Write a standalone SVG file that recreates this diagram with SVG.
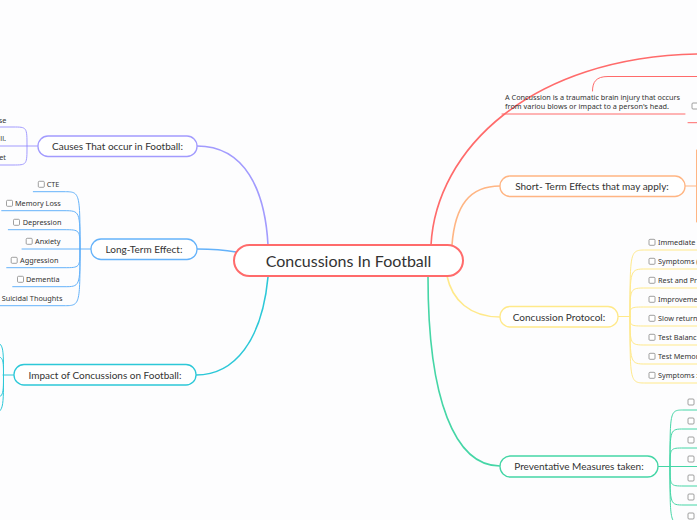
<svg xmlns="http://www.w3.org/2000/svg" width="697" height="520" viewBox="0 0 697 520">
<style>
.t{font-family:Lato,"Noto Sans",sans-serif;fill:#333}
.lbl{font-size:10px;text-anchor:middle}
.it{font-family:"Noto Sans",Lato,sans-serif;font-size:7.3px}
.cb{fill:#fff;stroke:#888;stroke-width:0.8}
.c path,.c line{fill:none;stroke-linecap:round}
.red{stroke:#FF6B6B}
.pur{stroke:#A29BFE}
.blu{stroke:#64B2FA}
.cya{stroke:#2CC8D8}
.ora{stroke:#FFB583}
.yel{stroke:#FFE98A}
.grn{stroke:#45D6A6}
.m{stroke-width:1.6}
.s{stroke-width:1}
</style>
<rect width="697" height="520" fill="#fdfdfe"/>
<g id="connectors" class="c">
<path class="red m" d="M431,245 C436,150 530,57 698,54"/>
<path class="red s" d="M592.5,91 C592.5,82 596,76.5 608,76.5 L698,76.5"/>
<path class="red s" d="M502,114 L685,114"/>
<path class="red s" d="M688,122.7 L698,122.7"/>
<path class="pur m" d="M268,245 C265,190 245,146 197,146"/>
<path class="pur s" d="M38,146 L-2,146"/>
<path class="pur s" d="M27,146 C27,127 27,127 13,127 L-2,127"/>
<path class="pur s" d="M27,146 C27,165 27,165 13,165 L-2,165"/>
<path class="blu m" d="M236,252 C225,250 215,249 197,249"/>
<path class="blu s" d="M91,249 L22,249"/>
<path class="blu s" d="M80,249 C80,191.7 80,191.7 64,191.7 L33.3,191.7"/>
<path class="blu s" d="M80,249 C80,210.7 80,210.7 64,210.7 L1.7,210.7"/>
<path class="blu s" d="M80,249 C80,229.7 80,229.7 64,229.7 L8.3,229.7"/>
<path class="blu s" d="M80,249 C80,267.7 80,267.7 64,267.7 L6.7,267.7"/>
<path class="blu s" d="M80,249 C80,286.7 80,286.7 64,286.7 L12.7,286.7"/>
<path class="blu s" d="M80,249 C80,305.7 80,305.7 64,305.7 L-2,305.7"/>
<path class="cya m" d="M268,277 C262,340 235,375 196,375"/>
<path class="cya s" d="M14,375 L3,375"/>
<path class="cya s" d="M3.5,375 C3.5,342 3.5,342 -12,342"/>
<path class="cya s" d="M3.5,375 C3.5,356 3.5,356 -12,356"/>
<path class="cya s" d="M3.5,375 C3.5,398 3.5,398 -12,398"/>
<path class="cya s" d="M3.5,375 C3.5,413 3.5,413 -12,413"/>
<path class="ora m" d="M452,245 C455,205 470,186 500,186"/>
<path class="ora s" d="M685,186 L698,186"/>
<path class="ora s" d="M696.5,150 L696.5,222"/>
<path class="yel m" d="M447,276 C452,300 470,317 500,317"/>
<path class="yel s" d="M618,316.5 L630,316.5"/>
<path class="yel s" d="M630,316.5 C630,250 630,250 646,250 L698,250"/>
<path class="yel s" d="M630,316.5 C630,269 630,269 646,269 L698,269"/>
<path class="yel s" d="M630,316.5 C630,288 630,288 646,288 L698,288"/>
<path class="yel s" d="M630,316.5 C630,307 630,307 646,307 L698,307"/>
<path class="yel s" d="M630,316.5 C630,326 630,326 646,326 L698,326"/>
<path class="yel s" d="M630,316.5 C630,345 630,345 646,345 L698,345"/>
<path class="yel s" d="M630,316.5 C630,364 630,364 646,364 L698,364"/>
<path class="yel s" d="M630,316.5 C630,383 630,383 646,383 L698,383"/>
<path class="grn m" d="M428,277 C428,400 455,466 500,466"/>
<path class="grn s" d="M658,466.5 L698,466.5"/>
<path class="grn s" d="M670,466.5 C670,410 670,410 684,410 L698,410"/>
<path class="grn s" d="M670,466.5 C670,429 670,429 684,429 L698,429"/>
<path class="grn s" d="M670,466.5 C670,448 670,448 684,448 L698,448"/>
<path class="grn s" d="M670,466.5 C670,486 670,486 684,486 L698,486"/>
<path class="grn s" d="M670,466.5 C670,505 670,505 684,505 L698,505"/>
<path class="grn s" d="M670,466.5 C670,524 670,524 684,524 L698,524"/>
</g>
<g id="center">
<rect x="234" y="245" width="229" height="31" rx="15.5" fill="#fff" stroke="#FF6B6B" stroke-width="2"/>
<text class="t" x="348.5" y="266.5" font-size="16" text-anchor="middle">Concussions In Football</text>
</g>
<g id="definition">
<text class="t it" x="505" y="99.5" textLength="175" lengthAdjust="spacing">A Concussion is a traumatic brain injury that occurs</text>
<text class="t it" x="505" y="108.5" textLength="164" lengthAdjust="spacing">from variou blows or impact to a person's head.</text>
<rect class="cb" x="692" y="103" width="6" height="6" rx="1"/>
</g>
<g id="causes">
<rect x="38" y="136" width="159" height="20.5" rx="10" fill="#fff" stroke="#A29BFE" stroke-width="1.3"/>
<text class="t lbl" x="117.5" y="150">Causes That occur in Football:</text>
</g>
<g id="causes-items">
<text class="t it" x="6.3" y="122.5" text-anchor="end">se</text>
<text class="t it" x="6" y="141" text-anchor="end">ll.</text>
<text class="t it" x="6" y="159.5" text-anchor="end">et</text>
</g>
<g id="long-term">
<rect x="91" y="239" width="106" height="20.5" rx="10" fill="#fff" stroke="#64B2FA" stroke-width="1.3"/>
<text class="t lbl" x="144" y="252.5">Long-Term Effect:</text>
</g>
<g id="long-term-items">
<rect class="cb" x="38.3" y="181.3" width="6" height="6" rx="1"/><text class="t it" x="46.7" y="187">CTE</text>
<rect class="cb" x="6.5" y="200.3" width="6" height="6" rx="1"/><text class="t it" x="15" y="206">Memory Loss</text>
<rect class="cb" x="13.5" y="219.3" width="6" height="6" rx="1"/><text class="t it" x="22.7" y="225">Depression</text>
<rect class="cb" x="26.2" y="238.3" width="6" height="6" rx="1"/><text class="t it" x="35" y="244">Anxiety</text>
<rect class="cb" x="11.2" y="257.3" width="6" height="6" rx="1"/><text class="t it" x="20" y="263">Aggression</text>
<rect class="cb" x="17.5" y="276.3" width="6" height="6" rx="1"/><text class="t it" x="26" y="282">Dementia</text>
<text class="t it" x="1.7" y="301">Suicidal Thoughts</text>
</g>
<g id="impact">
<rect x="14" y="364.5" width="182" height="20.5" rx="10" fill="#fff" stroke="#2CC8D8" stroke-width="1.3"/>
<text class="t lbl" x="105" y="378.5">Impact of Concussions on Football:</text>
</g>
<g id="short-term">
<rect x="500" y="176" width="185" height="20.5" rx="10" fill="#fff" stroke="#FFB583" stroke-width="1.3"/>
<text class="t lbl" x="592" y="189.5">Short- Term Effects that may apply:</text>
</g>
<g id="protocol">
<rect x="500" y="306.5" width="118" height="20.5" rx="10" fill="#fff" stroke="#FFE98A" stroke-width="1.3"/>
<text class="t lbl" x="559" y="320.5">Concussion Protocol:</text>
</g>
<g id="protocol-items">
<rect class="cb" x="649" y="239.3" width="6" height="6" rx="1"/><text class="t it" x="658" y="245">Immediate</text>
<rect class="cb" x="649" y="258.3" width="6" height="6" rx="1"/><text class="t it" x="658" y="264">Symptoms (</text>
<rect class="cb" x="649" y="277.3" width="6" height="6" rx="1"/><text class="t it" x="658" y="283">Rest and Pr</text>
<rect class="cb" x="649" y="296.3" width="6" height="6" rx="1"/><text class="t it" x="658" y="302">Improveme</text>
<rect class="cb" x="649" y="315.3" width="6" height="6" rx="1"/><text class="t it" x="658" y="321">Slow return</text>
<rect class="cb" x="649" y="334.3" width="6" height="6" rx="1"/><text class="t it" x="658" y="340">Test Balanc</text>
<rect class="cb" x="649" y="353.3" width="6" height="6" rx="1"/><text class="t it" x="658" y="359">Test Memor</text>
<rect class="cb" x="649" y="372.3" width="6" height="6" rx="1"/><text class="t it" x="658" y="378">Symptoms :</text>
</g>
<g id="preventative">
<rect x="500" y="456" width="158" height="21" rx="10.5" fill="#fff" stroke="#45D6A6" stroke-width="1.3"/>
<text class="t lbl" x="579" y="470">Preventative Measures taken:</text>
</g>
<g id="preventative-items">
<rect class="cb" x="688" y="399" width="6" height="6" rx="1"/>
<rect class="cb" x="688" y="418" width="6" height="6" rx="1"/>
<rect class="cb" x="688" y="437" width="6" height="6" rx="1"/>
<rect class="cb" x="688" y="456" width="6" height="6" rx="1"/>
<rect class="cb" x="688" y="475" width="6" height="6" rx="1"/>
<rect class="cb" x="688" y="494" width="6" height="6" rx="1"/>
<rect class="cb" x="688" y="513" width="6" height="6" rx="1"/>
</g>
</svg>
